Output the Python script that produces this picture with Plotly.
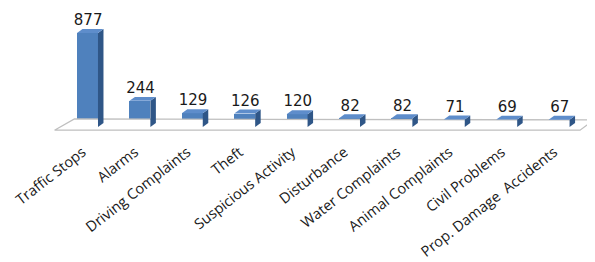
import plotly.graph_objects as go

categories = ["Traffic Stops", "Alarms", "Driving Complaints", "Theft", "Suspicious Activity",
              "Disturbance", "Water Complaints", "Animal Complaints", "Civil Problems",
              "Prop. Damage  Accidents"]
values = [877, 244, 129, 126, 120, 82, 82, 71, 69, 67]

FRONT = "#4F81BD"
SIDE = "#2F5687"
TOP = "#5E8DCB"
BW = 0.40      # bar width (category units)
DX = 0.105     # depth offset x
DY = 37        # depth offset y (value units)

fig = go.Figure()

# floor
fx = [-0.63, -0.25, 9.66, 9.40, -0.63]
fy = [-30, 75, 66, -30, -30]
fig.add_trace(go.Scatter(x=fx, y=fy, mode="lines", fill="toself", fillcolor="white",
                         line=dict(color="#BFBFBF", width=1.3), hoverinfo="skip", showlegend=False))

n = len(categories)
for i, v in enumerate(values):
    x0, x1 = i - BW / 2, i + BW / 2
    # side face
    fig.add_trace(go.Scatter(x=[x1, x1 + DX, x1 + DX, x1, x1], y=[0, DY, v + DY, v, 0],
                             mode="lines", fill="toself", fillcolor=SIDE, line=dict(width=0),
                             hoverinfo="skip", showlegend=False))
    # top face
    fig.add_trace(go.Scatter(x=[x0, x0 + DX, x1 + DX, x1, x0], y=[v, v + DY, v + DY, v, v],
                             mode="lines", fill="toself", fillcolor=TOP, line=dict(width=0),
                             hoverinfo="skip", showlegend=False))

fig.add_trace(go.Bar(x=list(range(n)), y=values, width=BW, marker=dict(color=FRONT, line=dict(width=0)),
                     showlegend=False))

fig.add_trace(go.Scatter(x=[i + DX / 2 - 0.04 for i in range(n)], y=[v + DY for v in values],
                         mode="text", text=[str(v) for v in values], textposition="top center",
                         textfont=dict(family="DejaVu Sans", size=15, color="#1a1a1a"),
                         hoverinfo="skip", showlegend=False))

PX = 52.4      # pixels per category
PY = 0.10718   # pixels per value unit
OFF = 8        # page body margin offset
X0 = 87.5 - OFF
Y0 = 127 - OFF
PLOT_H = 132

fig.update_layout(
    width=595, height=262,
    margin=dict(l=0, r=0, t=0, b=262 - PLOT_H, autoexpand=False),
    paper_bgcolor="white", plot_bgcolor="white",
    bargap=0,
    xaxis=dict(range=[-X0 / PX, (595 - X0) / PX], tickmode="array", automargin=False,
               tickvals=list(range(n)), ticktext=categories, tickangle=-38,
               ticklabelshift=-5, ticklabeloverflow="allow",
               showgrid=False, zeroline=False, showline=False, ticks="",
               tickfont=dict(family="Open Sans", size=14.5, color="#1a1a1a")),
    yaxis=dict(range=[-(PLOT_H - Y0) / PY, Y0 / PY], visible=False, automargin=False),
)

fig.write_html("out.html")
